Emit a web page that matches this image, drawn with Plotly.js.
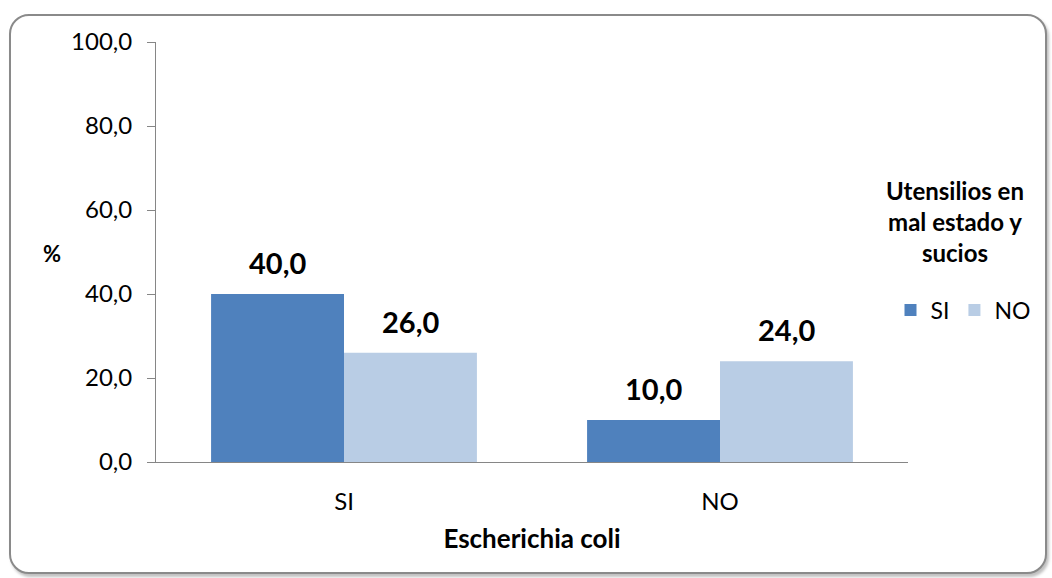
<!DOCTYPE html>
<html>
<head>
<meta charset="utf-8">
<script src="https://cdn.plot.ly/plotly-3.0.1.min.js"></script>
<style>
html,body{margin:0;padding:0;width:1052px;height:578px;overflow:hidden;background:#fff;}
#frame{position:absolute;left:9px;top:14px;width:1034px;height:556px;border:2px solid #8a8a8a;border-radius:20px;box-shadow:2px 3px 3px rgba(0,0,0,0.25);background:#fff;}
#chart{position:absolute;left:0;top:0;width:1052px;height:578px;}
</style>
</head>
<body>
<div id="frame"></div>
<div id="chart"></div>
<script>
const categories = ["SI", "NO"];
const seriesNames = ["SI", "NO"];
const valuesSI = [40.0, 10.0];
const valuesNO = [26.0, 24.0];
const yTicks = [0, 20, 40, 60, 80, 100];
const legendTitle = "Utensilios en<br>mal estado y<br>sucios";
const xTitle = "Escherichia coli";
const yTitle = "%";

const font = "Lato, 'Open Sans', sans-serif";
const L = 156, R = 5, T = 42, B = 116, W = 1052, H = 578;
const PW = W - L - R, PH = H - T - B;
const px = x => (x - L) / PW;       // page x -> paper x
const py = y => (H - B - y) / PH;   // page y -> paper y

const traces = [
  {type:"bar", name:seriesNames[0], x:categories, y:valuesSI, marker:{color:"#4F81BD"}},
  {type:"bar", name:seriesNames[1], x:categories, y:valuesNO, marker:{color:"#B9CDE5"}}
];
const fmt = v => v.toFixed(1).replace(".", ",");
const annotations = [];
[valuesSI, valuesNO].forEach((vals, s) => {
  vals.forEach((v, i) => {
    annotations.push({x:categories[i], y:v, xref:"x", yref:"y", text:fmt(v), showarrow:false,
      xshift: s === 0 ? -66.5 : 66.5, yanchor:"bottom", yshift:12,
      font:{size:29, weight:"bold", color:"#000"}});
  });
});
annotations.push({text:yTitle, xref:"paper", yref:"paper", x:px(52), y:py(253),
  xanchor:"center", yanchor:"middle", showarrow:false, font:{size:22, weight:"bold"}});
annotations.push({text:legendTitle, xref:"paper", yref:"paper", x:px(955), y:py(174),
  xanchor:"center", yanchor:"top", align:"center", showarrow:false,
  font:{size:24, weight:"bold"}});

const layout = {
  width:W, height:H,
  paper_bgcolor:"rgba(0,0,0,0)", plot_bgcolor:"rgba(0,0,0,0)",
  separators:",.",
  margin:{l:L, r:R, t:T, b:B},
  barmode:"group", bargap:0.293, bargroupgap:0,
  font:{family:font, size:24, color:"#000"},
  xaxis:{domain:[0, px(908)], showline:true, linecolor:"#868686", linewidth:1, ticks:"", showgrid:false, automargin:false,
    tickfont:{size:24}, ticklabelstandoff:18,
    title:{text:xTitle, font:{size:26, weight:"bold"}, standoff:16}},
  yaxis:{range:[0,100], tickvals:yTicks, tickformat:".1f", showline:true, linecolor:"#868686",
    linewidth:1, ticks:"outside", ticklen:8, tickcolor:"#868686", showgrid:false, automargin:false,
    zeroline:false, tickfont:{size:24}, ticklabelstandoff:10},
  legend:{orientation:"h", x:px(963), xanchor:"center",
    y:py(310), yanchor:"middle", font:{size:23}, itemwidth:30, tracegroupgap:0},
  annotations: annotations
};
Plotly.newPlot("chart", traces, layout, {displayModeBar:false, staticPlot:true});
</script>
</body>
</html>
